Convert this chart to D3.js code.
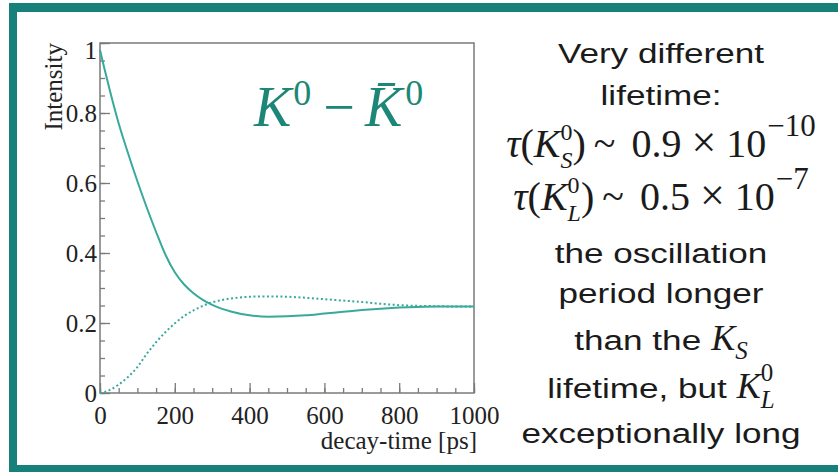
<!DOCTYPE html>
<html>
<head>
<meta charset="utf-8">
<script src="https://cdn.jsdelivr.net/npm/d3@7"></script>
<style>
html, body { margin: 0; padding: 0; background: #fff; }
svg { display: block; }
</style>
</head>
<body>
<svg id="chart" width="838" height="473"></svg>
<script>
// values
const decayTime = [0, 10, 25, 50, 75, 100, 125, 150, 175, 200, 225, 250, 275, 300, 350, 400, 450, 500, 550, 600, 650, 700, 750, 800, 850, 900, 950, 1000];
const kaon = [0.98, 0.935, 0.87, 0.77, 0.685, 0.605, 0.53, 0.46, 0.395, 0.345, 0.31, 0.285, 0.266, 0.252, 0.233, 0.222, 0.218, 0.219, 0.222, 0.227, 0.232, 0.237, 0.241, 0.244, 0.246, 0.247, 0.247, 0.247];
const antiKaon = [0, 0.002, 0.008, 0.024, 0.046, 0.074, 0.112, 0.145, 0.174, 0.199, 0.22, 0.236, 0.249, 0.259, 0.27, 0.275, 0.276, 0.275, 0.272, 0.268, 0.264, 0.26, 0.255, 0.251, 0.249, 0.248, 0.247, 0.247];
const xTicks = [0, 200, 400, 600, 800, 1000];
const xMinorTicks = d3.range(0, 1001, 50);
const yTicks = [0, 0.2, 0.4, 0.6, 0.8, 1];
const yMinorTicks = d3.range(0, 1.0001, 0.05);

const teal = '#17807a';
const curveColour = '#38a99b';
const axisColour = '#7a7a7a';
const serif = "'Liberation Serif', 'Times New Roman', serif";
const sans = "'Liberation Sans', Arial, sans-serif";

const svg = d3.select('#chart');

// frame
svg.append('rect').attr('width', 838).attr('height', 473).attr('fill', '#fff');
svg.append('rect').attr('x', 9).attr('y', 3).attr('width', 8).attr('height', 469).attr('fill', teal);
svg.append('rect').attr('x', 9).attr('y', 3).attr('width', 829).attr('height', 9).attr('fill', teal);
svg.append('rect').attr('x', 9).attr('y', 465).attr('width', 829).attr('height', 7).attr('fill', teal);

// scales
const x = d3.scaleLinear().domain([0, 1000]).range([100, 474]);
const y = d3.scaleLinear().domain([0, 1]).range([393, 43]);

const styleAxis = g => {
	g.select('.domain').remove();
	g.selectAll('line').attr('stroke', axisColour).attr('stroke-width', 1.3);
	g.selectAll('text')
		.attr('font-family', serif)
		.attr('font-size', 25)
		.attr('fill', '#222');
};

// minor ticks
svg.append('g')
	.attr('transform', 'translate(0,393)')
	.call(d3.axisBottom(x).tickValues(xMinorTicks).tickSize(-5).tickFormat(''))
	.call(styleAxis);
svg.append('g')
	.attr('transform', 'translate(100,0)')
	.call(d3.axisLeft(y).tickValues(yMinorTicks).tickSize(-5).tickFormat(''))
	.call(styleAxis);

// major ticks
svg.append('g')
	.attr('transform', 'translate(0,393)')
	.call(d3.axisBottom(x).tickValues(xTicks).tickSizeInner(-10).tickSizeOuter(0).tickPadding(13).tickFormat(d3.format('d')))
	.call(styleAxis);
svg.append('g')
	.attr('transform', 'translate(100,0)')
	.call(d3.axisLeft(y).tickValues(yTicks).tickSizeInner(-10).tickSizeOuter(0).tickPadding(3)
		.tickFormat(d => (d === 0 || d === 1) ? String(d) : d3.format('.1f')(d)))
	.call(styleAxis)
	.call(g => g.selectAll('.tick').filter(d => d === 1).select('text').attr('dy', '0.62em'));

// plot box
svg.append('rect')
	.attr('x', x(0)).attr('y', y(1))
	.attr('width', x(1000) - x(0)).attr('height', y(0) - y(1))
	.attr('fill', 'none')
	.attr('stroke', axisColour)
	.attr('stroke-width', 1.5);

// axis titles
svg.append('text')
	.attr('x', 477).attr('y', 449)
	.attr('text-anchor', 'end')
	.attr('font-family', serif).attr('font-size', 25).attr('fill', '#222')
	.text('decay-time [ps]');
svg.append('text')
	.attr('transform', 'translate(62,43) rotate(-90)')
	.attr('text-anchor', 'end')
	.attr('font-family', serif).attr('font-size', 25).attr('fill', '#222')
	.text('Intensity');

// curves
const line = series => d3.line()
	.x((d, i) => x(decayTime[i]))
	.y(d => y(d))
	.curve(d3.curveMonotoneX)(series);

svg.append('path')
	.attr('d', line(antiKaon))
	.attr('fill', 'none')
	.attr('stroke', curveColour)
	.attr('stroke-width', 2)
	.attr('stroke-dasharray', '2,2.5');

svg.append('path')
	.attr('d', line(kaon))
	.attr('fill', 'none')
	.attr('stroke', curveColour)
	.attr('stroke-width', 2);

// rich text helper: runs of text laid out left to right
const writeRuns = (g, runs) => {
	let cx = 0;
	runs.forEach(r => {
		if (r.gap) { cx += r.gap; return; }
		const parts = r.stack || [r];
		let adv = 0;
		parts.forEach(p => {
			const t = g.append('text')
				.attr('x', cx)
				.attr('y', p.dy || 0)
				.attr('font-family', p.sans ? sans : serif)
				.attr('font-style', p.italic ? 'italic' : null)
				.attr('font-size', p.size)
				.text(p.text);
			let w = t.node().getComputedTextLength();
			if (p.stretch) {
				w *= p.stretch;
				t.attr('textLength', w).attr('lengthAdjust', 'spacingAndGlyphs');
			}
			adv = Math.max(adv, w);
		});
		cx += adv;
	});
	return cx;
};

// K0 - K0bar label
const kLabel = svg.append('g')
	.attr('transform', 'translate(254,126)')
	.attr('fill', '#1d8777');
writeRuns(kLabel, [
	{ text: 'K', italic: true, size: 56 },
	{ gap: 2 },
	{ text: '0', size: 36, dy: -21 },
	{ gap: 12 },
	{ text: '\u2212', size: 56 },
	{ gap: 10 },
	{ text: 'K\u0304', italic: true, size: 56 },
	{ gap: 3 },
	{ text: '0', size: 36, dy: -21 }
]);

// right-hand notes
const sansRun = text => ({ text, sans: true, size: 27, stretch: 1.3 });
const mathLine = (sub, mant, exp) => [
	{ text: '\u03c4', italic: true, size: 40 },
	{ text: '(', size: 40 },
	{ text: 'K', italic: true, size: 40 },
	{ stack: [{ text: '0', size: 24, dy: -17 }, { text: sub, italic: true, size: 24, dy: 11 }] },
	{ text: ')', size: 40 },
	{ gap: 8 },
	{ text: '~', size: 40 },
	{ gap: 16 },
	{ text: mant, size: 40 },
	{ gap: 10 },
	{ text: '\u00d7', size: 44 },
	{ gap: 10 },
	{ text: '10', size: 40 },
	{ gap: 1 },
	{ text: exp, size: 31, dy: -21 }
];

const notes = [
	{ y: 63, runs: [sansRun('Very different')] },
	{ y: 105, runs: [sansRun('lifetime:')] },
	{ y: 157, runs: mathLine('S', '0.9', '\u221210') },
	{ y: 210, runs: mathLine('L', '0.5', '\u22127') },
	{ y: 263, runs: [sansRun('the oscillation')] },
	{ y: 303, runs: [sansRun('period longer')] },
	{ y: 350, runs: [sansRun('than the'), { gap: 10 }, { text: 'K', italic: true, size: 36 }, { text: 'S', italic: true, size: 25, dy: 9 }] },
	{ y: 398, runs: [sansRun('lifetime, but'), { gap: 10 }, { text: 'K', italic: true, size: 36 },
		{ stack: [{ text: '0', size: 25, dy: -17 }, { text: 'L', italic: true, size: 25, dy: 10 }] }] },
	{ y: 443, runs: [sansRun('exceptionally long')] }
];

notes.forEach(n => {
	const g = svg.append('g').attr('fill', '#1b1b1b');
	const w = writeRuns(g, n.runs);
	g.attr('transform', `translate(${661 - w / 2},${n.y})`);
});
</script>
</body>
</html>
